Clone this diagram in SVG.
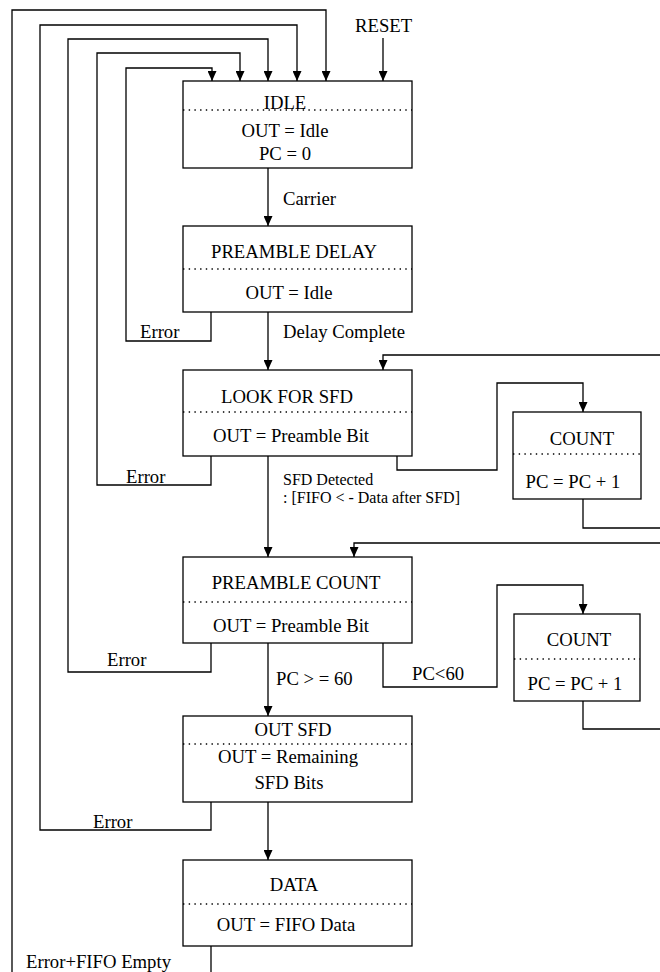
<svg xmlns="http://www.w3.org/2000/svg" width="660" height="972" viewBox="0 0 660 972">
<style>
text{font-family:"Liberation Serif","Times New Roman",serif;font-size:18.7px;fill:#000}
.sm{font-size:16px}
.c{text-anchor:middle}
.box{fill:#fff;stroke:#000;stroke-width:1.3}
.dot{stroke:#000;stroke-width:1.3;stroke-dasharray:1.4 4.3;fill:none}
.ln{fill:none;stroke:#000;stroke-width:1.3}
.ar{marker-end:url(#ah)}
</style>
<defs>
<marker id="ah" markerUnits="userSpaceOnUse" markerWidth="11" markerHeight="9" refX="10" refY="4.5" orient="auto">
<path d="M0,0 L10,4.5 L0,9 z" fill="#000"/>
</marker>
</defs>
<rect width="660" height="972" fill="#fff"/>
<g id="connectors">
<path class="ln ar" d="M12,972 V10 H326 V81"/>
<path class="ln ar" d="M211,802 V830 H40 V25 H297 V81"/>
<path class="ln ar" d="M211,643 V672 H68 V39 H268 V81"/>
<path class="ln ar" d="M211,456 V485 H97 V53 H240 V81"/>
<path class="ln ar" d="M211,312 V341 H126 V68 H212 V81"/>
<path class="ln ar" d="M383,38 V81"/>
<path class="ln ar" d="M268,168 V226"/>
<path class="ln ar" d="M268,312 V370"/>
<path class="ln ar" d="M268,456 V557"/>
<path class="ln ar" d="M268,643 V716"/>
<path class="ln ar" d="M268,802 V860"/>
<path class="ln" d="M211,946 V972"/>
<path class="ln ar" d="M397,456 V470 H497 V383 H583 V412"/>
<path class="ln" d="M583,499 V528 H660"/>
<path class="ln ar" d="M660,355 H383 V370"/>
<path class="ln ar" d="M383,643 V687 H497 V585 H583 V614"/>
<path class="ln" d="M583,701 V729 H660"/>
<path class="ln ar" d="M660,543 H354 V557"/>
<text x="355" y="32">RESET</text>
<text x="283" y="205">Carrier</text>
<text x="140" y="338">Error</text>
<text x="283" y="338">Delay Complete</text>
<text x="126" y="483">Error</text>
<text class="sm" x="283" y="485">SFD Detected</text>
<text class="sm" x="283" y="503">: [FIFO &lt; - Data after SFD]</text>
<text x="107" y="666">Error</text>
<text x="276" y="685">PC &gt; = 60</text>
<text x="412" y="680">PC&lt;60</text>
<text x="93" y="828">Error</text>
<text x="26" y="968">Error+FIFO Empty</text>
</g>
<g id="idle">
<rect class="box" x="183" y="81" width="229" height="87"/>
<line class="dot" x1="183" y1="110" x2="412" y2="110"/>
<text class="c" x="285" y="108.5">IDLE</text>
<text class="c" x="285" y="136.5">OUT = Idle</text>
<text class="c" x="285" y="159.5">PC = 0</text>
</g>
<g id="preamble-delay">
<rect class="box" x="183" y="226" width="229" height="86"/>
<line class="dot" x1="183" y1="269" x2="412" y2="269"/>
<text class="c" x="294" y="258">PREAMBLE DELAY</text>
<text class="c" x="289" y="299">OUT = Idle</text>
</g>
<g id="look-for-sfd">
<rect class="box" x="183" y="370" width="229" height="86"/>
<line class="dot" x1="183" y1="412" x2="412" y2="412"/>
<text class="c" x="287" y="403">LOOK FOR SFD</text>
<text class="c" x="291" y="442">OUT = Preamble Bit</text>
</g>
<g id="count1">
<rect class="box" x="513" y="412" width="128" height="87"/>
<line class="dot" x1="513" y1="454" x2="641" y2="454"/>
<text class="c" x="582" y="445">COUNT</text>
<text class="c" x="573" y="488">PC = PC + 1</text>
</g>
<g id="preamble-count">
<rect class="box" x="183" y="557" width="229" height="86"/>
<line class="dot" x1="183" y1="602" x2="412" y2="602"/>
<text class="c" x="296" y="589">PREAMBLE COUNT</text>
<text class="c" x="291" y="632">OUT = Preamble Bit</text>
</g>
<g id="count2">
<rect class="box" x="514" y="614" width="126" height="87"/>
<line class="dot" x1="514" y1="659" x2="640" y2="659"/>
<text class="c" x="579" y="646">COUNT</text>
<text class="c" x="575" y="690">PC = PC + 1</text>
</g>
<g id="out-sfd">
<rect class="box" x="183" y="716" width="229" height="86"/>
<line class="dot" x1="183" y1="744" x2="412" y2="744"/>
<text class="c" x="293" y="736">OUT SFD</text>
<text class="c" x="288" y="763">OUT = Remaining</text>
<text class="c" x="289" y="789">SFD Bits</text>
</g>
<g id="data">
<rect class="box" x="183" y="860" width="229" height="86"/>
<line class="dot" x1="183" y1="904" x2="412" y2="904"/>
<text class="c" x="294" y="891">DATA</text>
<text class="c" x="286" y="931">OUT = FIFO Data</text>
</g>
</svg>
